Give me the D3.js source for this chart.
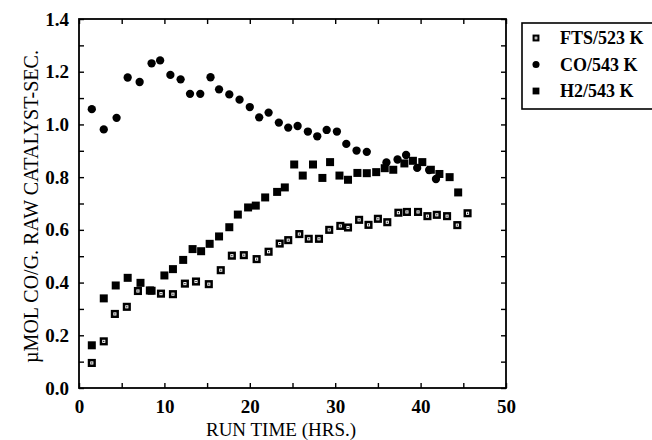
<!DOCTYPE html>
<html>
<head>
<meta charset="utf-8">
<script src="https://cdn.jsdelivr.net/npm/d3@7"></script>
<style>
  body { margin: 0; background: #fff; }
  svg { display: block; }
  svg text { font-family: "Liberation Serif", "DejaVu Serif", serif; }
  .tick-label { font-size: 19px; font-weight: bold; }
  .axis-title { font-size: 20px; }
  .x-title { font-size: 19px; }
  .legend-text { font-size: 18px; font-weight: bold; }
</style>
</head>
<body>
<div id="chart"></div>
<script>
// FTS/523 K (hollow squares)
const ftsTime = [1.5, 2.9, 4.2, 5.6, 6.9, 8.3, 9.6, 11.0, 12.4, 13.7, 15.2, 16.6, 17.9, 19.3, 20.8,
  22.2, 23.5, 24.5, 25.8, 26.9, 28.1, 29.3, 30.6, 31.5, 32.8, 33.9, 35.0, 36.1, 37.4, 38.4,
  39.7, 40.8, 41.9, 43.1, 44.3, 45.5];
const ftsRate = [0.095, 0.177, 0.281, 0.308, 0.368, 0.370, 0.358, 0.356, 0.396, 0.404, 0.394, 0.447,
  0.502, 0.504, 0.489, 0.517, 0.548, 0.561, 0.584, 0.566, 0.566, 0.600, 0.615, 0.609, 0.638,
  0.619, 0.642, 0.629, 0.665, 0.668, 0.668, 0.652, 0.657, 0.652, 0.618, 0.663];

// CO/543 K (filled diamonds)
const coTime = [1.5, 2.9, 4.4, 5.7, 7.1, 8.5, 9.5, 10.7, 11.9, 13.0, 14.2, 15.4, 16.4, 17.6, 18.8,
  20.0, 21.1, 22.2, 23.4, 24.5, 25.6, 26.8, 27.9, 29.0, 30.2, 31.3, 32.5, 33.7, 36.0, 37.3,
  38.3, 39.6, 41.0, 41.8];
const coRate = [1.058, 0.981, 1.025, 1.178, 1.161, 1.232, 1.243, 1.188, 1.171, 1.116, 1.116, 1.179,
  1.133, 1.114, 1.094, 1.066, 1.027, 1.045, 1.007, 0.988, 0.994, 0.973, 0.955, 0.979, 0.973,
  0.926, 0.901, 0.896, 0.856, 0.867, 0.884, 0.835, 0.827, 0.793];

// H2/543 K (filled squares)
const h2Time = [1.5, 2.9, 4.3, 5.7, 7.2, 8.5, 10.0, 11.0, 12.2, 13.3, 14.3, 15.3, 16.4, 17.6, 18.6,
  19.8, 20.7, 21.8, 23.2, 24.1, 25.2, 26.2, 27.4, 28.5, 29.4, 30.5, 31.5, 32.6, 33.7, 34.8,
  35.8, 36.8, 38.1, 39.1, 40.2, 41.2, 42.2, 43.4, 44.4];
const h2Rate = [0.162, 0.340, 0.389, 0.418, 0.399, 0.369, 0.427, 0.451, 0.486, 0.527, 0.519, 0.547,
  0.575, 0.610, 0.658, 0.685, 0.692, 0.723, 0.744, 0.761, 0.848, 0.806, 0.848, 0.797, 0.857,
  0.806, 0.790, 0.816, 0.815, 0.819, 0.834, 0.828, 0.852, 0.862, 0.857, 0.828, 0.812, 0.800,
  0.742];

const seriesNames = ['FTS/523 K', 'CO/543 K', 'H2/543 K'];
const xMajorTicks = [0, 10, 20, 30, 40, 50];
const xMinorTicks = [5, 15, 25, 35, 45];
const yMajorTicks = [0, 0.2, 0.4, 0.6, 0.8, 1.0, 1.2, 1.4];
const yMinorTicks = [0.1, 0.3, 0.5, 0.7, 0.9, 1.1, 1.3];

const outerWidth = 652;
const outerHeight = 440;
const margin = { top: 19, right: 146, bottom: 52, left: 79 };
const width = outerWidth - margin.left - margin.right;
const height = outerHeight - margin.top - margin.bottom;

const svg = d3.select('#chart')
  .append('svg')
  .attr('width', outerWidth)
  .attr('height', outerHeight);

const g = svg.append('g')
  .attr('transform', `translate(${margin.left}, ${margin.top})`);

const x = d3.scaleLinear().domain([0, 50]).range([0, width]);
const y = d3.scaleLinear().domain([0, 1.4]).range([height, 0]);

// frame
g.append('rect')
  .attr('width', width)
  .attr('height', height)
  .attr('fill', 'none')
  .attr('stroke', '#000')
  .attr('stroke-width', 1.8);

// axes, ticks pointing inward on all four sides
const TICK = 5;

function styleAxis(sel) {
  sel.attr('font-family', null).attr('font-size', null);
  sel.select('.domain').remove();
  sel.selectAll('.tick line').attr('stroke', '#000').attr('stroke-width', 1.4);
  sel.selectAll('.tick text')
    .attr('class', 'tick-label')
    .attr('fill', '#000');
}

g.append('g')
  .attr('transform', `translate(0, ${height})`)
  .call(d3.axisBottom(x).tickValues(xMajorTicks).tickSize(-TICK).tickPadding(8)
    .tickFormat(d3.format('d')))
  .call(styleAxis)
  .selectAll('.tick text').attr('dy', '0.9em');

g.append('g')
  .attr('transform', `translate(0, ${height})`)
  .call(d3.axisBottom(x).tickValues(xMinorTicks).tickSize(-TICK).tickFormat(''))
  .call(styleAxis);

g.append('g')
  .call(d3.axisTop(x).tickValues(xMajorTicks.concat(xMinorTicks)).tickSize(-TICK).tickFormat(''))
  .call(styleAxis);

g.append('g')
  .call(d3.axisLeft(y).tickValues(yMajorTicks).tickSize(-TICK).tickPadding(10)
    .tickFormat(d3.format('.1f')))
  .call(styleAxis);

g.append('g')
  .call(d3.axisLeft(y).tickValues(yMinorTicks).tickSize(-TICK).tickFormat(''))
  .call(styleAxis);

g.append('g')
  .attr('transform', `translate(${width}, 0)`)
  .call(d3.axisRight(y).tickValues(yMajorTicks.concat(yMinorTicks)).tickSize(-TICK).tickFormat(''))
  .call(styleAxis);

// axis titles
svg.append('text')
  .attr('class', 'x-title')
  .attr('x', 281)
  .attr('y', 436)
  .attr('text-anchor', 'middle')
  .text('RUN TIME (HRS.)');

svg.append('text')
  .attr('class', 'axis-title')
  .attr('transform', `translate(38, ${margin.top + height / 2 + 3}) rotate(-90)`)
  .attr('text-anchor', 'middle')
  .text('\u00b5MOL CO/G. RAW CATALYST-SEC.');

// marker drawing
const SQ = 7;

function hollowSquare(sel) {
  sel.append('rect')
    .attr('x', -2.8).attr('y', -2.8)
    .attr('width', 5.6).attr('height', 5.6)
    .attr('fill', '#fff')
    .attr('stroke', '#000')
    .attr('stroke-width', 2.5);
  sel.append('rect')
    .attr('x', -0.6).attr('y', -0.6)
    .attr('width', 1.2).attr('height', 1.2)
    .attr('fill', '#000');
}

function filledSquare(sel) {
  sel.append('rect')
    .attr('x', -SQ / 2 - 0.5).attr('y', -SQ / 2 - 0.5)
    .attr('width', SQ + 1).attr('height', SQ + 1)
    .attr('fill', '#000');
}

function diamond(sel) {
  sel.append('path')
    .attr('d', d3.symbol().type(d3.symbolCircle).size(54)())
    .attr('fill', '#000');
}

const ftsData = ftsTime.map((t, i) => ({ t: t, v: ftsRate[i] }));
const coData = coTime.map((t, i) => ({ t: t, v: coRate[i] }));
const h2Data = h2Time.map((t, i) => ({ t: t, v: h2Rate[i] }));

function plotSeries(data, drawMarker, cls) {
  g.append('g')
    .attr('class', cls)
    .selectAll('g')
    .data(data)
    .enter()
    .append('g')
    .attr('transform', d => `translate(${x(d.t)}, ${y(d.v)})`)
    .call(drawMarker);
}

plotSeries(ftsData, hollowSquare, 'fts');
plotSeries(coData, diamond, 'co');
plotSeries(h2Data, filledSquare, 'h2');

// legend
const legend = svg.append('g').attr('transform', 'translate(522, 23)');

legend.append('rect')
  .attr('width', 150)
  .attr('height', 86)
  .attr('fill', '#fff')
  .attr('stroke', '#000')
  .attr('stroke-width', 1.6);

const legendMarkers = [hollowSquare, diamond, filledSquare];

seriesNames.forEach((name, i) => {
  const row = legend.append('g')
    .attr('transform', `translate(14, ${15 + i * 26.5})`);
  const m = row.append('g').attr('transform', 'scale(0.85)');
  legendMarkers[i](m);
  row.append('text')
    .attr('class', 'legend-text')
    .attr('x', 24)
    .attr('y', 6)
    .text(name);
});
</script>
</body>
</html>
